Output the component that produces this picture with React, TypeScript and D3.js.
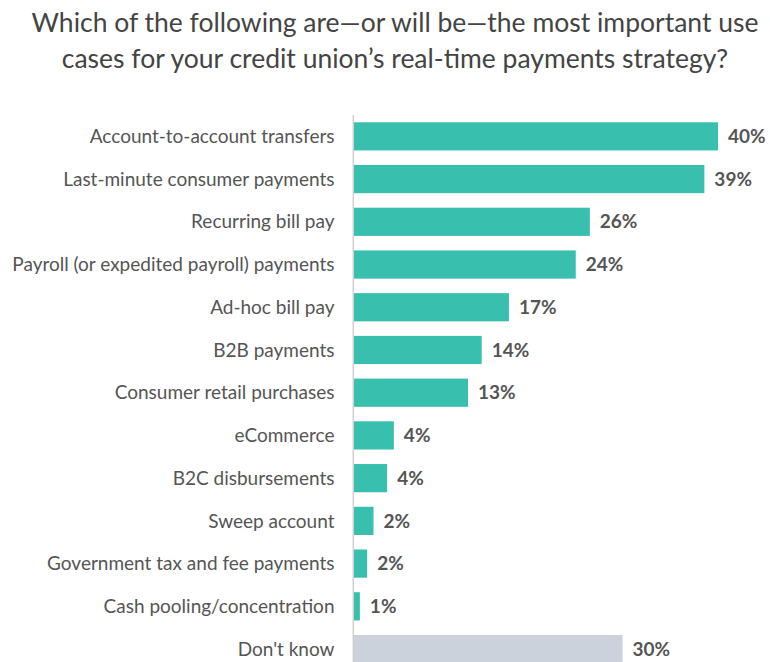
import React from "react";
import * as d3 from "d3";

const categories = [
  "Account-to-account transfers",
  "Last-minute consumer payments",
  "Recurring bill pay",
  "Payroll (or expedited payroll) payments",
  "Ad-hoc bill pay",
  "B2B payments",
  "Consumer retail purchases",
  "eCommerce",
  "B2C disbursements",
  "Sweep account",
  "Government tax and fee payments",
  "Cash pooling/concentration",
  "Don't know",
];
const values = [40.1, 38.6, 26.0, 24.45, 17.1, 14.1, 12.6, 4.44, 3.7, 2.2, 1.5, 0.7, 29.6];
const valueLabels = ["40%", "39%", "26%", "24%", "17%", "14%", "13%", "4%", "4%", "2%", "2%", "1%", "30%"];
const titleLines = [
  "Which of the following are\u2014or will be\u2014the most important use",
  "cases for your credit union\u2019s real-time payments strategy?",
];

const W = 770;
const H = 662;

export default function App() {
  const x = d3.scaleLinear().domain([0, 45]).range([353.5, 353.5 + 45 * 9.09]);
  const y = d3
    .scaleBand<string>()
    .domain(categories)
    .range([115, 670.4])
    .paddingInner(0.34)
    .paddingOuter(0.17);
  const font = "Lato, 'Open Sans', sans-serif";
  return (
    <svg
      width={W}
      height={H}
      style={{ position: "absolute", left: 0, top: 0, background: "#fff" }}
      fontFamily={font}
    >
      <rect x={0} y={0} width={W} height={H} fill="#fff" />
      {titleLines.map((t, i) => (
        <text
          key={i}
          x={395}
          y={32 + i * 36}
          textAnchor="middle"
          fontSize={26.5}
          fill="#444"
        >
          {t}
        </text>
      ))}
      {categories.map((c, i) => {
        const y0 = y(c)!;
        const bw = y.bandwidth();
        const last = c === "Don't know";
        return (
          <g key={c}>
            <rect
              x={x(0)}
              y={y0}
              width={x(values[i]) - x(0)}
              height={bw}
              fill={last ? "#cbd2dc" : "#38bfad"}
            />
            <text
              x={334.5}
              y={y0 + bw / 2}
              dy="0.35em"
              textAnchor="end"
              fontSize={19}
              fill="#555"
            >
              {c}
            </text>
            <text
              x={x(values[i]) + 10}
              y={y0 + bw / 2}
              dy="0.35em"
              fontSize={19}
              fontWeight="bold"
              fill="#555"
            >
              {valueLabels[i]}
            </text>
          </g>
        );
      })}
      <line x1={353.3} x2={353.3} y1={115} y2={H} stroke="#d0d0d0" strokeWidth={1.5} />
    </svg>
  );
}
